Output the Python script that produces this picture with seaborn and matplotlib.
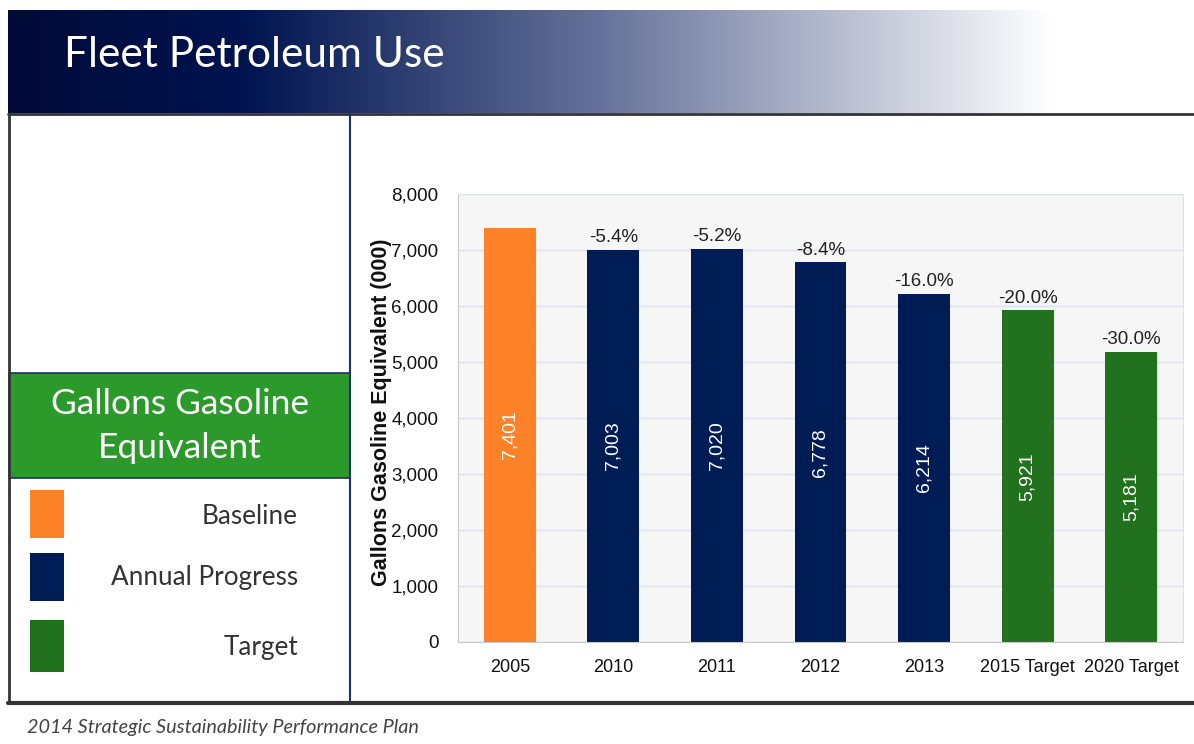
import matplotlib
matplotlib.use("Agg")
import matplotlib.pyplot as plt
import matplotlib.patches as mpatches
from matplotlib.colors import LinearSegmentedColormap
import numpy as np
import pandas as pd
import seaborn as sns

# Data
categories = ['2005', '2010', '2011', '2012', '2013', '2015 Target', '2020 Target']
values = [7401, 7003, 7020, 6778, 6214, 5921, 5181]
pct_labels = ['', '-5.4%', '-5.2%', '-8.4%', '-16.0%', '-20.0%', '-30.0%']
groups = ['Baseline', 'Annual Progress', 'Annual Progress', 'Annual Progress',
          'Annual Progress', 'Target', 'Target']
legend_items = ['Baseline', 'Annual Progress', 'Target']

ORANGE = '#fd8126'
NAVY = '#001c54'
GREEN = '#21711f'
HEADER_GREEN = '#2b9a2a'
palette = {'Baseline': ORANGE, 'Annual Progress': NAVY, 'Target': GREEN}

df = pd.DataFrame({'cat': categories, 'value': values, 'group': groups})

sns.set_style('white')
W, H = 1194, 744
fig = plt.figure(figsize=(W / 100, H / 100), dpi=100)

def fx(px):
    return px / W

def fy(py):
    return 1 - py / H

ARIAL = ['Liberation Sans', 'DejaVu Sans']

# Title banner with gradient
ban = fig.add_axes([fx(8), fy(113), fx(1194 - 8), (113 - 10) / H])
cmap = LinearSegmentedColormap.from_list(
    'ban', [(0, '#000a38'), (0.2, '#001450'), (0.5, '#66729a'), (0.88, '#ffffff'), (1, '#ffffff')])
grad = np.linspace(0, 1, 512).reshape(1, -1)
ban.imshow(grad, aspect='auto', cmap=cmap, extent=[0, 1, 0, 1])
ban.set_axis_off()
fig.text(fx(64), fy(55), 'Fleet Petroleum Use', color='white', fontsize=30.5,
         family='Lato', va='center', ha='left')

# Frame lines
lines = [
    ([8, 1194], [114, 114], '#333333', 2),
    ([9, 9], [114, 703], '#333333', 2),
    ([350, 350], [114, 703], '#1f2f6a', 1.5),
    ([8, 1194], [703, 703], '#333333', 3),
]
for xs, ys, c, lw in lines:
    fig.add_artist(plt.Line2D([fx(x) for x in xs], [fy(y) for y in ys], color=c, lw=lw))

# Green header box in the left panel
fig.add_artist(mpatches.Rectangle((fx(9), fy(478)), fx(350 - 9), (478 - 373) / H,
                                  facecolor=HEADER_GREEN, edgecolor='#1f2f6a', lw=1.2))
fig.text(fx(180), fy(426), 'Gallons Gasoline\nEquivalent', color='white', fontsize=25.5,
         family='Lato', ha='center', va='center', linespacing=1.45)

# Legend swatches
swatch_y = [(490, 538), (553, 601), (620, 672)]
label_y = [516, 578, 647]
for name, (y0, y1), ly in zip(legend_items, swatch_y, label_y):
    fig.add_artist(mpatches.Rectangle((fx(30), fy(y1)), fx(34), (y1 - y0) / H,
                                      facecolor=palette[name], edgecolor='none'))
    fig.text(fx(298), fy(ly), name, color='#333333', fontsize=18.8, family='Lato',
             ha='right', va='center')

# Footer
fig.text(fx(27), fy(727), '2014 Strategic Sustainability Performance Plan', color='#444444',
         fontsize=14.3, family='Lato', style='italic', ha='left', va='center')

# Bar chart
ax = fig.add_axes([fx(458), fy(642), fx(1183 - 458), (642 - 194) / H])
sns.barplot(data=df, x='cat', y='value', hue='group', palette=palette, dodge=False,
            width=0.5, legend=False, ax=ax, saturation=1, edgecolor='none')
ax.set_facecolor('#f6f6f6')
ax.set_ylim(0, 8000)
ax.set_xlim(-0.5, len(categories) - 0.5)
ax.set_yticks(range(0, 8001, 1000))
ax.set_yticklabels([f'{v:,}' for v in range(0, 8001, 1000)])
ax.yaxis.grid(True, color='#d9e1ee', lw=1)
ax.set_axisbelow(True)
for s in ['top', 'right']:
    ax.spines[s].set_color('#dde3ee')
ax.spines['left'].set_color('#c8c8c8')
ax.spines['bottom'].set_color('#c8c8c8')
ax.tick_params(axis='y', length=6, color='#b0b0b0', labelsize=13.5, pad=8)
ax.tick_params(axis='x', length=0, labelsize=13, pad=12)
ax.set_xticks(range(len(categories)))
ax.set_xticks(np.arange(-0.5, len(categories), 1), minor=True)
ax.tick_params(axis='x', which='minor', length=6, color='#b0b0b0')
for lab in ax.get_xticklabels() + ax.get_yticklabels():
    lab.set_family(ARIAL)
    lab.set_color('#111111')
ax.set_xlabel('')
ax.set_ylabel('Gallons Gasoline Equivalent (000)', fontsize=15.5, fontweight='bold',
              family=ARIAL, color='#111111', va='center')
ax.yaxis.set_label_coords((381 - 458) / 725, (642 - 412) / 448)

for i, (v, p) in enumerate(zip(values, pct_labels)):
    ax.text(i, v / 2, f'{v:,}', rotation=90, color='white', ha='center', va='center',
            fontsize=14, family=ARIAL)
    if p:
        ax.text(i, v + 70, p, ha='center', va='bottom', fontsize=13.5,
                family=ARIAL, color='#222222')

fig.savefig('out.png', dpi=100)
